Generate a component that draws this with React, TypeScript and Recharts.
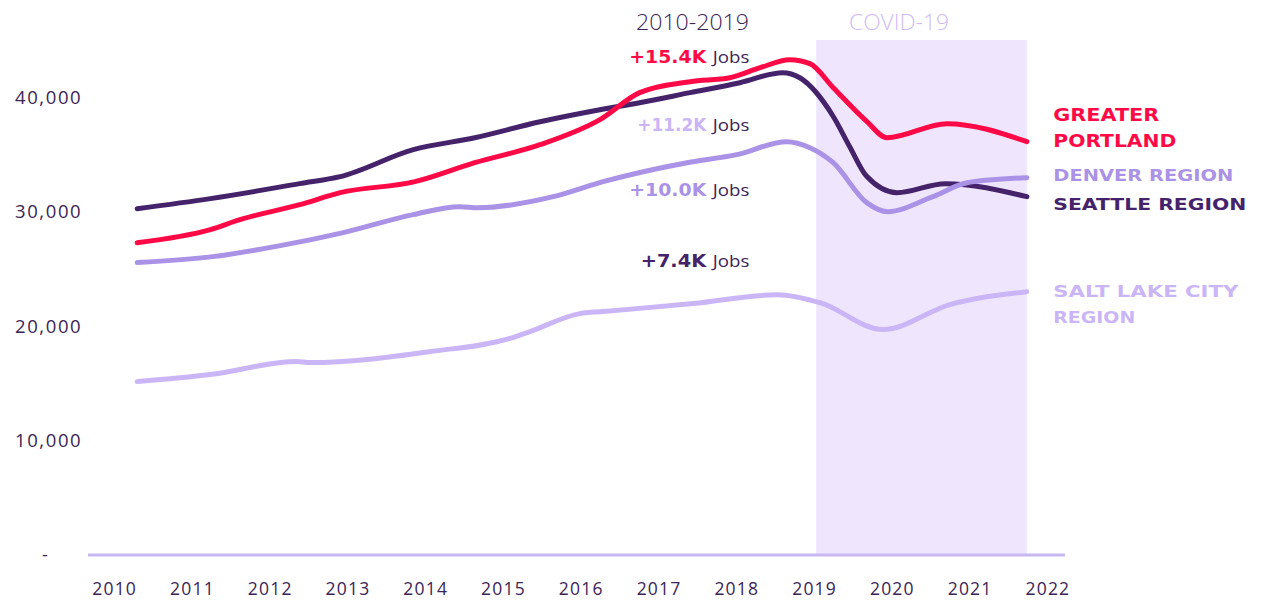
import React from "react";
import { LineChart, Line, XAxis, YAxis, ReferenceArea } from "recharts";

if (typeof document !== "undefined") {
  document.body.style.margin = "0";
}

// ---- data (decimal years, jobs) ----
const yearTicks = [2010, 2011, 2012, 2013, 2014, 2015, 2016, 2017, 2018, 2019, 2020, 2021, 2022];
const jobTicks = [0, 10000, 20000, 30000, 40000];

const seattleYears = [2010.29, 2011.23, 2012.38, 2012.9, 2013.84, 2014.63, 2015.47, 2016.24, 2016.75, 2017.4, 2018.04, 2018.59, 2018.81, 2019.24, 2019.45, 2019.67, 2020.06, 2020.68, 2021.73];
const seattleJobs = [30260, 31140, 32450, 33060, 35420, 36460, 37860, 38910, 39520, 40400, 41270, 42140, 41700, 38320, 35700, 33090, 31660, 32450, 31310];

const portlandYears = [2010.29, 2011.23, 2011.61, 2012.38, 2012.9, 2013.86, 2014.63, 2015.47, 2016.24, 2016.75, 2017.4, 2017.91, 2018.3, 2018.68, 2018.94, 2019.24, 2019.67, 2019.93, 2020.7, 2021.73];
const portlandJobs = [27290, 28430, 29300, 30610, 31660, 32620, 34280, 35850, 38040, 40400, 41360, 41700, 42580, 43280, 42930, 40830, 37890, 36460, 37690, 36120];

const denverYears = [2010.29, 2011.26, 2012.13, 2012.94, 2013.84, 2014.44, 2014.67, 2015.64, 2016.28, 2017.36, 2018.0, 2018.64, 2018.94, 2019.24, 2019.67, 2019.94, 2020.52, 2020.96, 2021.73];
const denverJobs = [25550, 26070, 27030, 28170, 29740, 30440, 30350, 31310, 32620, 34280, 34980, 36120, 35590, 34280, 30790, 30000, 31310, 32530, 32970];

const saltLakeYears = [2010.29, 2011.23, 2012.34, 2012.51, 2014.05, 2015.12, 2015.34, 2015.98, 2016.28, 2017.44, 2018.52, 2019.07, 2019.88, 2020.74, 2021.73];
const saltLakeJobs = [15150, 15770, 16900, 16810, 17770, 19000, 19520, 21090, 21270, 21970, 22750, 22050, 19700, 21880, 23010];

const covidStart = 2019.02;
const covidEnd = 2021.73;

const toPoints = (xs: number[], ys: number[]) => xs.map((x, i) => ({ x, y: ys[i] }));

const seattleData = toPoints(seattleYears, seattleJobs);
const portlandData = toPoints(portlandYears, portlandJobs);
const denverData = toPoints(denverYears, denverJobs);
const saltLakeData = toPoints(saltLakeYears, saltLakeJobs);

// ---- styles ----
const C_PORTLAND = "#FF0A47";
const C_SEATTLE = "#45236B";
const C_DENVER = "#AA92E7";
const C_SALT = "#CAB6F6";
const C_BAND = "#EFE6FE";
const C_AXIS = "#C8B8F2";
const C_TEXT = "#3B2556";
const TICK_FONT = "'Open Sans', 'Noto Sans', sans-serif";
const WIDE_FONT = "'DejaVu Sans', sans-serif";

const XTick = (props: any) => {
  const { x, payload } = props;
  return (
    <text x={x} y={595} textAnchor="middle" fontFamily={TICK_FONT} fontWeight={500} fontSize={17.5} letterSpacing={1.2} fill={C_TEXT}>
      {payload.value}
    </text>
  );
};

const YTick = (props: any) => {
  const { y, payload } = props;
  const v = payload.value as number;
  if (v === 0) {
    return (
      <text x={45} y={y + 6} textAnchor="middle" fontFamily={TICK_FONT} fontSize={18} fill={C_TEXT}>
        -
      </text>
    );
  }
  return (
    <text x={15} y={y + 6.7} textAnchor="start" fontFamily={TICK_FONT} fontWeight={500} fontSize={18.5} letterSpacing={1.6} fill={C_TEXT}>
      {v.toLocaleString("en-US")}
    </text>
  );
};

const WideText = ({ x, y, w, size, color, children }: any) => (
  <text x={x} y={y} fontFamily={WIDE_FONT} fontWeight={700} fontSize={size} fill={color} textLength={w} lengthAdjust="spacingAndGlyphs">
    {children}
  </text>
);

const JobsNote = ({ y, numX, numW, label, color }: any) => (
  <g>
    <WideText x={numX} y={y} w={numW} size={18.5} color={color}>{label}</WideText>
    <text x={712.7} y={y} fontFamily={TICK_FONT} fontSize={15.5} fill={C_TEXT} textLength={36.6} lengthAdjust="spacingAndGlyphs">
      Jobs
    </text>
  </g>
);

export default function App() {
  return (
    <div style={{ position: "relative", width: 1274, height: 600, overflow: "hidden", background: "#fff" }}>
      <LineChart
        width={1274}
        height={600}
        margin={{ top: 40, right: 209, bottom: 0, left: 0 }}
      >
        <ReferenceArea x1={covidStart} x2={covidEnd} y1={0} y2={45000} fill={C_BAND} fillOpacity={1} stroke="none" ifOverflow="extendDomain" />
        <XAxis
          type="number"
          dataKey="x"
          domain={[2009.657, 2022.22]}
          ticks={yearTicks}
          height={45}
          tickLine={false}
          tickSize={0}
          axisLine={{ stroke: C_AXIS, strokeWidth: 3 }}
          tick={<XTick />}
          interval={0}
          allowDataOverflow
        />
        <YAxis
          type="number"
          domain={[0, 45000]}
          ticks={jobTicks}
          width={88}
          axisLine={false}
          tickLine={false}
          tick={<YTick />}
          interval={0}
        />
        <Line data={saltLakeData} dataKey="y" type="monotone" stroke={C_SALT} strokeWidth={5} strokeLinecap="round" dot={false} activeDot={false} isAnimationActive={false} />
        <Line data={seattleData} dataKey="y" type="monotone" stroke={C_SEATTLE} strokeWidth={5} strokeLinecap="round" dot={false} activeDot={false} isAnimationActive={false} />
        <Line data={denverData} dataKey="y" type="monotone" stroke={C_DENVER} strokeWidth={5} strokeLinecap="round" dot={false} activeDot={false} isAnimationActive={false} />
        <Line data={portlandData} dataKey="y" type="monotone" stroke={C_PORTLAND} strokeWidth={5} strokeLinecap="round" dot={false} activeDot={false} isAnimationActive={false} />
      </LineChart>
      <svg width={1274} height={600} style={{ position: "absolute", left: 0, top: 0, pointerEvents: "none" }}>
        <text x={636} y={30} fontFamily={TICK_FONT} fontWeight={300} fontSize={22} fill={C_TEXT} textLength={113} lengthAdjust="spacingAndGlyphs">
          2010-2019
        </text>
        <text x={849} y={30} fontFamily={TICK_FONT} fontWeight={300} fontSize={22} fill="#CDBCF7" textLength={100} lengthAdjust="spacingAndGlyphs">
          COVID-19
        </text>
        <JobsNote y={63.3} numX={629.3} numW={77} label="+15.4K" color={C_PORTLAND} />
        <JobsNote y={130.7} numX={637.3} numW={69} label="+11.2K" color={C_SALT} />
        <JobsNote y={196} numX={629.3} numW={77} label="+10.0K" color={C_DENVER} />
        <JobsNote y={266.7} numX={640.7} numW={65.5} label="+7.4K" color={C_SEATTLE} />

        <WideText x={1053.3} y={120.7} w={106} size={17} color={C_PORTLAND}>GREATER</WideText>
        <WideText x={1053.3} y={147.3} w={123} size={17} color={C_PORTLAND}>PORTLAND</WideText>
        <WideText x={1053.3} y={180.7} w={180} size={16.5} color={C_DENVER}>DENVER REGION</WideText>
        <WideText x={1053.3} y={210} w={193} size={16.5} color={C_SEATTLE}>SEATTLE REGION</WideText>
        <WideText x={1053.3} y={296.7} w={185} size={16.5} color={C_SALT}>SALT LAKE CITY</WideText>
        <WideText x={1053.3} y={323.3} w={82} size={16.5} color={C_SALT}>REGION</WideText>
      </svg>
    </div>
  );
}
